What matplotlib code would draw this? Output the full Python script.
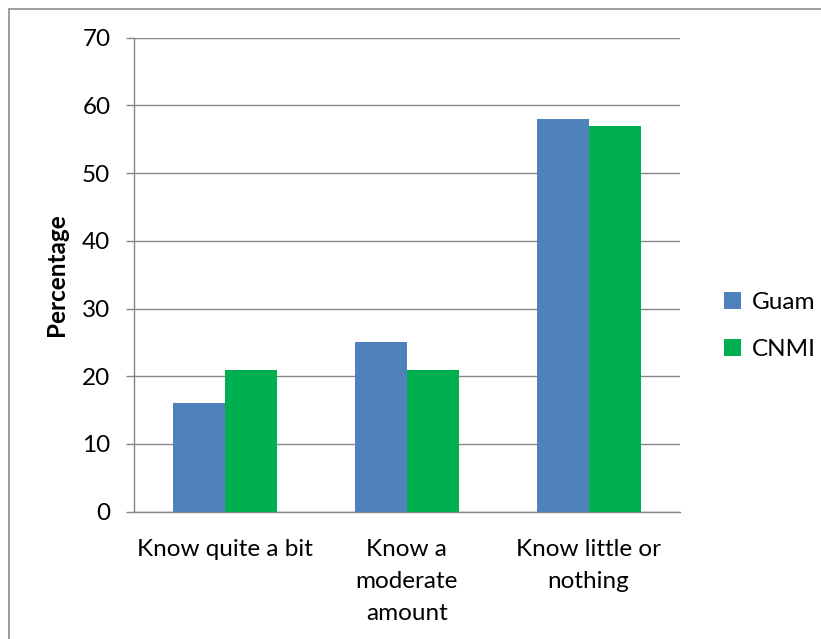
import matplotlib
matplotlib.use("Agg")
import matplotlib.pyplot as plt
from matplotlib.patches import Rectangle, Patch
import numpy as np

categories = ["Know quite a bit", "Know a\nmoderate\namount", "Know little or\nnothing"]
series_names = ["Guam", "CNMI"]
guam = [16, 25, 58]
cnmi = [21, 21, 57]
yticks = [0, 10, 20, 30, 40, 50, 60, 70]

colors = ["#4F81BD", "#00B050"]
grid_c = "#868686"

plt.rcParams['font.family'] = ['Lato', 'DejaVu Sans']

W, H = 821, 639
fig = plt.figure(figsize=(W / 100, H / 100), dpi=100)
fig.patch.set_facecolor("white")

# outer chart border
fig.patches.append(Rectangle((9 / W, -0.1), 1.2, (H - 9) / H + 0.1,
                             transform=fig.transFigure, fill=False,
                             edgecolor="#8c8c8c", linewidth=1.2))

left, right, top, bottom = 134, 679.5, 37.7, 511.7
ax = fig.add_axes([left / W, (H - bottom) / H, (right - left) / W, (bottom - top) / H])

x = np.arange(len(categories))
w = 1 / 3.5
ax.bar(x - w / 2, guam, width=w, color=colors[0], label=series_names[0], zorder=3)
ax.bar(x + w / 2, cnmi, width=w, color=colors[1], label=series_names[1], zorder=3)

ax.set_xlim(-0.5, len(categories) - 0.5)
ax.set_ylim(0, 70)
ax.set_yticks(yticks)
ax.yaxis.grid(True, color=grid_c, linewidth=1.0, zorder=0)
ax.set_axisbelow(True)

for s in ["top", "right"]:
    ax.spines[s].set_visible(False)
for s in ["left", "bottom"]:
    ax.spines[s].set_color(grid_c)
    ax.spines[s].set_linewidth(1.0)

ax.tick_params(axis="y", direction="out", length=6, width=1.0, color=grid_c,
               labelsize=17.5, pad=11, labelcolor="black")
ax.set_xticks(x)
ax.set_xticklabels(categories, fontsize=17.5, linespacing=1.63)
ax.tick_params(axis="x", length=0, pad=20)

ax.set_ylabel("Percentage", fontsize=17.5, fontweight="bold", labelpad=10)

handles = [Patch(facecolor=c, edgecolor="none") for c in colors]
fig.legend(handles, series_names, loc="center left",
           bbox_to_anchor=(702 / W, 1 - 326 / H), frameon=False,
           fontsize=17.5, handlelength=0.7, handleheight=0.7,
           handletextpad=0.45, labelspacing=1.1)

fig.savefig("out.png", dpi=100)
